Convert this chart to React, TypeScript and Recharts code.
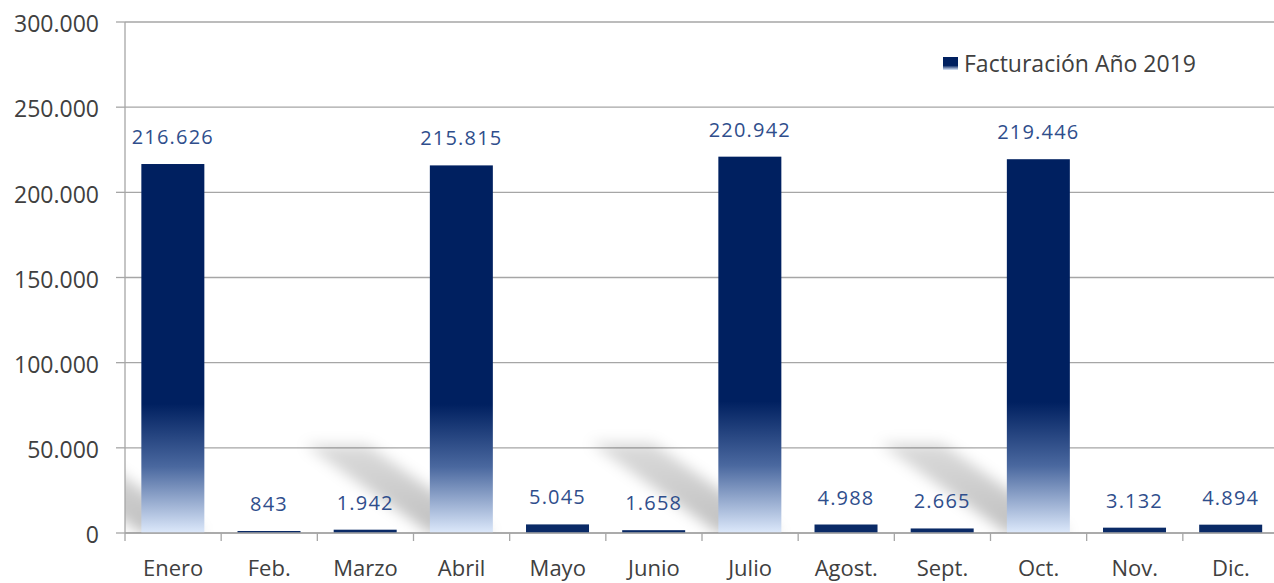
import React from 'react';
import { BarChart, Bar, XAxis, YAxis, CartesianGrid, Legend, LabelList } from 'recharts';

const months = ['Enero', 'Feb.', 'Marzo', 'Abril', 'Mayo', 'Junio', 'Julio', 'Agost.', 'Sept.', 'Oct.', 'Nov.', 'Dic.'];
const values = [216626, 843, 1942, 215815, 5045, 1658, 220942, 4988, 2665, 219446, 3132, 4894];
const yTicks = [0, 50000, 100000, 150000, 200000, 250000, 300000];
const seriesName = 'Facturación Año 2019';

const data = months.map((m, i) => ({ month: m, value: values[i] }));

const FONT = "'Open Sans', 'Noto Sans', sans-serif";
const CHART_W = 1290;
const CHART_H = 583;
const MARGIN = { top: 22, right: 11, bottom: 0, left: 0 };
const Y_W = 125;
const X_H = 50;
const PLOT_LEFT = MARGIN.left + Y_W;
const PLOT_TOP = MARGIN.top;
const PLOT_W = CHART_W - MARGIN.left - MARGIN.right - Y_W;
const PLOT_H = CHART_H - MARGIN.top - MARGIN.bottom - X_H;
const HALF_BAND = PLOT_W / months.length / 2;

const SHADOW_RATIO = 0.24;
const SHADOW_SKEW = 1.42;

const fmt = (n: number) => String(Math.round(n)).replace(/\B(?=(\d{3})+(?!\d))/g, '.');

const BarShape = (props: any) => {
  const { x, y, width, height } = props;
  if (width == null || height == null) return null;
  const bottom = y + height;
  const sh = height * SHADOW_RATIO;
  const dx = sh * SHADOW_SKEW;
  const small = height < 12;
  return (
    <g>
      {height > 40 && (
        <g clipPath="url(#plotClip)">
          <polygon
            points={`${x},${bottom} ${x + width},${bottom} ${x + width - dx},${bottom - sh} ${x - dx},${bottom - sh}`}
            fill="url(#shadowGrad)"
            filter="url(#shadowBlur)"
          />
        </g>
      )}
      <rect x={x} y={y} width={width} height={height} fill={small ? '#0a2a66' : 'url(#barGrad)'} />
    </g>
  );
};

const XTick = (props: any) => {
  const { x, y, payload } = props;
  const half = payload && typeof payload.offset === 'number' && payload.offset > 0 ? payload.offset : HALF_BAND;
  return (
    <g>
      <line x1={x - half} x2={x - half} y1={y} y2={y + 8} stroke="#a6a6a6" strokeWidth={1.3} />
      <text x={x} y={y + 43} textAnchor="middle" fontFamily={FONT} fontSize={22} fill="#404040">
        {payload.value}
      </text>
    </g>
  );
};

const YTick = (props: any) => {
  const { x, y, payload } = props;
  return (
    <text x={x} y={y + 2} dy="0.36em" textAnchor="end" fontFamily={FONT} fontSize={23} fill="#404040">
      {fmt(payload.value)}
    </text>
  );
};

const renderLabel = (props: any) => {
  const { x, y, width, value } = props;
  return (
    <text
      x={x + width / 2}
      y={y - 20}
      textAnchor="middle"
      fontFamily={FONT}
      fontSize={20}
      letterSpacing={1.2}
      fill="#2f4e8c"
    >
      {fmt(value)}
    </text>
  );
};

const renderLegend = (props: any) => {
  const payload = props.payload || [];
  const name = payload.length ? payload[0].value : seriesName;
  return (
    <div style={{ display: 'flex', alignItems: 'center', fontFamily: FONT, fontSize: 23, lineHeight: '30px', color: '#404040', whiteSpace: 'nowrap' }}>
      <span
        style={{
          display: 'inline-block',
          width: 15,
          height: 13,
          marginRight: 6,
          background: 'linear-gradient(to bottom, #002060 0%, #002060 65%, #dde9fb 100%)',
        }}
      />
      <span>{name}</span>
    </div>
  );
};

export default function App() {
  return (
    <div style={{ position: 'absolute', left: 0, top: 0, width: 1274, height: 583, overflow: 'hidden', background: '#fff' }}>
      <BarChart width={CHART_W} height={CHART_H} data={data} margin={MARGIN} barCategoryGap="17%">
        <defs>
          <linearGradient id="barGrad" x1="0" y1="0" x2="0" y2="1">
            <stop offset="0" stopColor="#002060" />
            <stop offset="0.65" stopColor="#002060" />
            <stop offset="0.82" stopColor="#4a689f" />
            <stop offset="1" stopColor="#dde9fb" />
          </linearGradient>
          <linearGradient id="shadowGrad" x1="0" y1="1" x2="0" y2="0">
            <stop offset="0" stopColor="#000" stopOpacity={0.25} />
            <stop offset="1" stopOpacity={0.14} stopColor="#000" />
          </linearGradient>
          <filter id="shadowBlur" x="-50%" y="-50%" width="200%" height="200%">
            <feGaussianBlur stdDeviation="7" />
          </filter>
          <clipPath id="plotClip">
            <rect x={PLOT_LEFT} y={PLOT_TOP} width={PLOT_W} height={PLOT_H} />
          </clipPath>
        </defs>
        <CartesianGrid vertical={false} stroke="#a6a6a6" strokeWidth={1.3} />
        <XAxis
          dataKey="month"
          height={X_H}
          interval={0}
          tickLine={false}
          tickSize={0}
          tickMargin={0}
          axisLine={{ stroke: '#a6a6a6', strokeWidth: 1.3 }}
          tick={<XTick />}
        />
        <YAxis
          width={Y_W}
          domain={[0, 300000]}
          ticks={yTicks}
          interval={0}
          tickSize={9}
          tickMargin={17}
          tickLine={{ stroke: '#a6a6a6', strokeWidth: 1.3 }}
          axisLine={{ stroke: '#a6a6a6', strokeWidth: 1.3 }}
          tick={<YTick />}
        />
        <Legend
          layout="horizontal"
          verticalAlign="middle"
          align="center"
          content={renderLegend}
          wrapperStyle={{ top: 48, left: 943, width: 'auto' }}
        />
        <Bar dataKey="value" name={seriesName} fill="#002060" minPointSize={2} shape={<BarShape />} isAnimationActive={false}>
          <LabelList dataKey="value" content={renderLabel} />
        </Bar>
      </BarChart>
    </div>
  );
}
